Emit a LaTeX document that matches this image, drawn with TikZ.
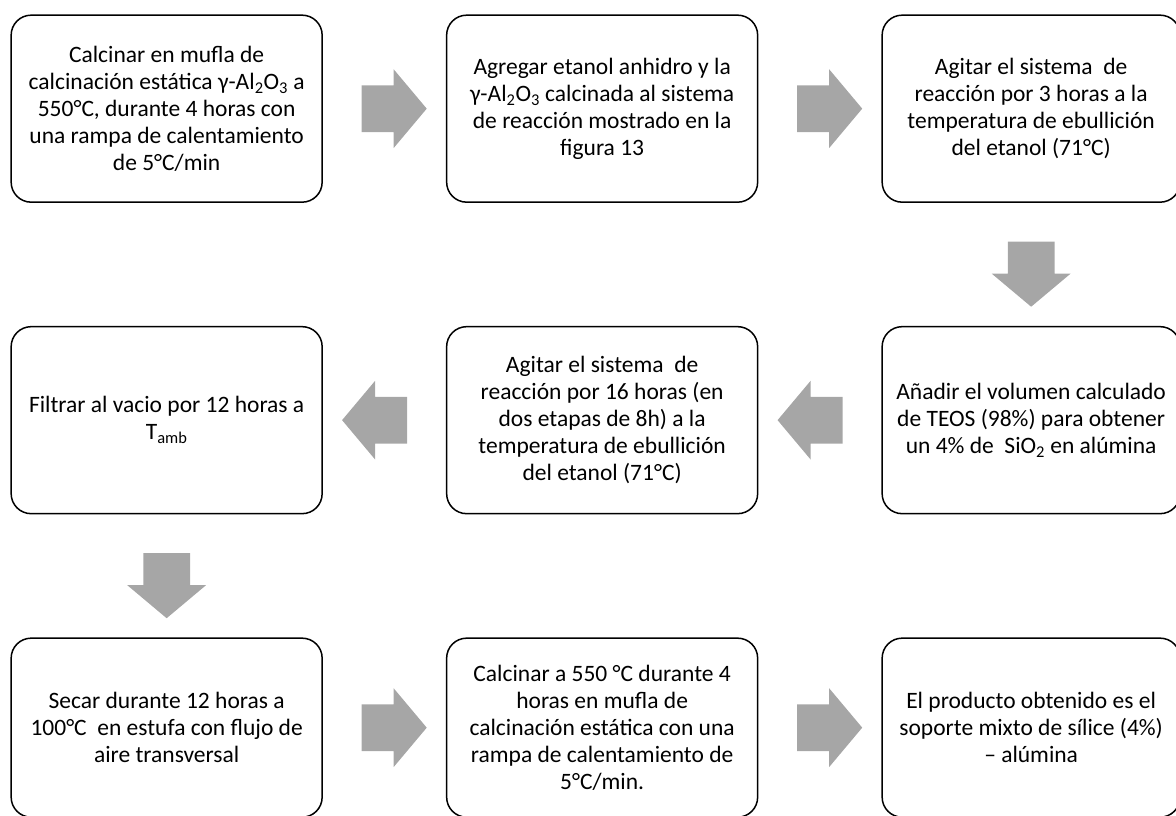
\documentclass[tikz,border=0pt]{standalone}
\usepackage{fontspec}
\setmainfont{Carlito}
\usepackage{tikz}
\usetikzlibrary{shapes}
\usetikzlibrary{shapes.arrows}
\usetikzlibrary{calc}
\definecolor{arrowgray}{HTML}{A6A6A6}

\begin{document}
\begin{tikzpicture}[thick,ampersand replacement=\&]
\tikzstyle{block} = [rectangle, draw=black, line width=1.5pt, fill=white,
align=center, rounded corners=20pt, minimum width=311pt, minimum height=187pt,
font=\fontsize{23.5pt}{27pt}\selectfont]
\tikzstyle{lastrow} = [minimum height=179pt]
\tikzstyle{lastcol} = [minimum width=298pt]
\tikzstyle{blockarrow} = [single arrow, draw=none, fill=arrowgray,
inner xsep=0pt, inner ysep=23pt, minimum height=65pt, single arrow head extend=16pt,
single arrow tip angle=100, single arrow head indent=0pt]
\useasboundingbox (0,0) rectangle (1176pt,-815pt);
\matrix (steps) [anchor=north west, inner sep=0pt, column sep=123pt, row sep=123pt] at (10pt,-14pt)
{
% row 1
\node [block] (a1) {Calcinar en mufla de\\ calcinación estática γ-Al\textsubscript{2}O\textsubscript{3} a\\ 550°C, durante 4 horas con\\ una rampa de calentamiento\\ de 5°C/min}; \&
\node [block] (b1) {Agregar etanol anhidro y la\\ γ-Al\textsubscript{2}O\textsubscript{3} calcinada al sistema\\ de reacción mostrado en la\\ figura 13}; \&
\node [block,lastcol] (c1) {Agitar el sistema\ \ de\\ reacción por 3 horas a la\\ temperatura de ebullición\\ del etanol (71°C)};\\
% row 2
\node [block] (a2) {Filtrar al vacio por 12 horas a\\ T\textsubscript{amb}}; \&
\node [block] (b2) {Agitar el sistema\ \ de\\ reacción por 16 horas (en\\ dos etapas de 8h) a la\\ temperatura de ebullición\\ del etanol (71°C)}; \&
\node [block,lastcol] (c2) {Añadir el volumen calculado\\ de TEOS (98\%) para obtener\\ un 4\% de\ \ SiO\textsubscript{2} en alúmina};\\
% row 3
\node [block,lastrow] (a3) {Secar durante 12 horas a\\ 100°C\ \ en estufa con flujo de\\ aire transversal}; \&
\node [block,lastrow] (b3) {Calcinar a 550 °C durante 4\\ horas en mufla de\\ calcinación estática con una\\ rampa de calentamiento de\\ 5°C/min.}; \&
\node [block,lastrow,lastcol] (c3) {El producto obtenido es el\\ soporte mixto de sílice (4\%)\\ – alúmina};\\
};
% flechas entre pasos
\node [blockarrow] (ab1) at ($(a1.east)!0.5!(b1.west)$) {};
\node [blockarrow] (bc1) at ($(b1.east)!0.5!(c1.west)$) {};
\node [blockarrow, rotate=-90] (c12) at ($(c1.south)!0.5!(c2.north)$) {};
\node [blockarrow, rotate=180] (cb2) at ($(c2.west)!0.5!(b2.east)$) {};
\node [blockarrow, rotate=180] (ba2) at ($(b2.west)!0.5!(a2.east)$) {};
\node [blockarrow, rotate=-90] (a23) at ($(a2.south)!0.5!(a3.north)$) {};
\node [blockarrow] (ab3) at ($(a3.east)!0.5!(b3.west)$) {};
\node [blockarrow] (bc3) at ($(b3.east)!0.5!(c3.west)$) {};
\end{tikzpicture}
\end{document}
